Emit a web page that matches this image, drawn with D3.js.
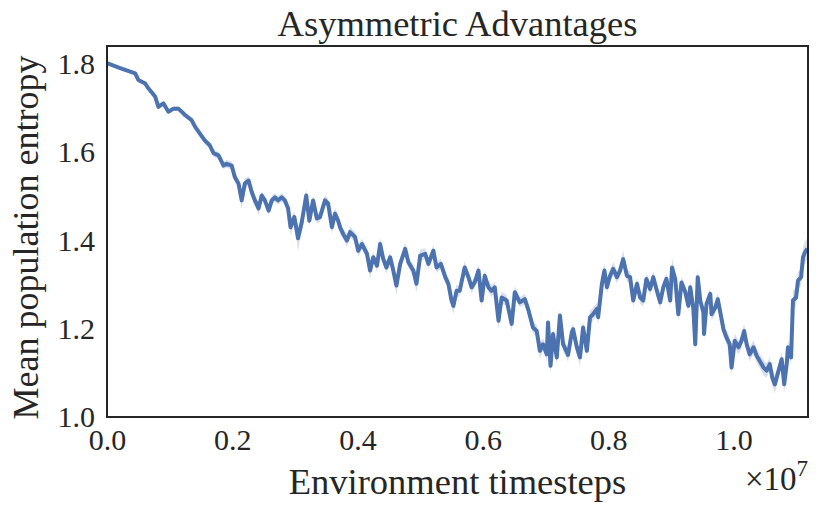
<!DOCTYPE html>
<html>
<head>
<meta charset="utf-8">
<script src="https://cdnjs.cloudflare.com/ajax/libs/d3/7.8.5/d3.min.js"></script>
<style>
  body { margin: 0; background: #fff; }
  text { font-family: "Liberation Serif", "DejaVu Serif", serif; fill: #262626; }
</style>
</head>
<body>
<div id="chart"></div>
<script>
// timesteps, in units of 1e7
var steps = [
  0, 0.021, 0.045, 0.050, 0.061, 0.066, 0.077, 0.082, 0.090, 0.098,
  0.106, 0.114, 0.125, 0.135, 0.141, 0.148, 0.156, 0.164, 0.170, 0.178,
  0.186, 0.191, 0.199, 0.204, 0.210, 0.215, 0.220, 0.226, 0.231, 0.236,
  0.242, 0.247, 0.252, 0.258, 0.263, 0.268, 0.273, 0.279, 0.284, 0.289,
  0.293, 0.299, 0.305, 0.311, 0.318, 0.323, 0.329, 0.335, 0.340, 0.348,
  0.353, 0.359, 0.364, 0.369, 0.372, 0.377, 0.383, 0.388, 0.396, 0.401,
  0.407, 0.415, 0.420, 0.425, 0.431, 0.436, 0.441, 0.446, 0.452, 0.457,
  0.462, 0.468, 0.476, 0.481, 0.489, 0.494, 0.500, 0.508, 0.513, 0.521,
  0.526, 0.533, 0.540, 0.545, 0.550, 0.553, 0.558, 0.563, 0.571, 0.577,
  0.582, 0.587, 0.593, 0.598, 0.603, 0.609, 0.614, 0.619, 0.625, 0.630,
  0.638, 0.646, 0.651, 0.659, 0.667, 0.673, 0.680, 0.686, 0.691, 0.696,
  0.702, 0.704, 0.708, 0.712, 0.718, 0.723, 0.728, 0.736, 0.742, 0.744,
  0.750, 0.755, 0.760, 0.766, 0.771, 0.776, 0.782, 0.784, 0.790, 0.794,
  0.798, 0.803, 0.808, 0.814, 0.819, 0.824, 0.830, 0.835, 0.840, 0.846,
  0.851, 0.856, 0.861, 0.867, 0.872, 0.877, 0.883, 0.888, 0.893, 0.899,
  0.902, 0.907, 0.912, 0.917, 0.923, 0.928, 0.931, 0.936, 0.939, 0.943,
  0.947, 0.952, 0.953, 0.957, 0.963, 0.965, 0.971, 0.975, 0.979, 0.984,
  0.989, 0.994, 0.997, 1.002, 1.008, 1.013, 1.017, 1.021, 1.026, 1.032,
  1.037, 1.042, 1.048, 1.053, 1.058, 1.062, 1.066, 1.072, 1.077, 1.081,
  1.085, 1.087, 1.092, 1.095, 1.100, 1.103, 1.108, 1.111, 1.114, 1.118
];

var entropy = [
  1.802, 1.791, 1.779, 1.764, 1.756, 1.745, 1.726, 1.703, 1.711, 1.692,
  1.699, 1.699, 1.684, 1.673, 1.657, 1.643, 1.627, 1.616, 1.598, 1.593,
  1.570, 1.574, 1.570, 1.544, 1.529, 1.491, 1.529, 1.536, 1.510, 1.491,
  1.473, 1.502, 1.491, 1.468, 1.491, 1.498, 1.491, 1.498, 1.491, 1.473,
  1.430, 1.453, 1.405, 1.442, 1.502, 1.445, 1.491, 1.450, 1.453, 1.491,
  1.484, 1.430, 1.461, 1.445, 1.430, 1.415, 1.400, 1.419, 1.408, 1.377,
  1.392, 1.370, 1.332, 1.362, 1.343, 1.392, 1.358, 1.339, 1.362, 1.332,
  1.298, 1.347, 1.381, 1.351, 1.332, 1.302, 1.366, 1.370, 1.347, 1.377,
  1.339, 1.347, 1.317, 1.302, 1.264, 1.252, 1.286, 1.286, 1.339, 1.317,
  1.294, 1.305, 1.332, 1.264, 1.320, 1.294, 1.286, 1.294, 1.218, 1.271,
  1.264, 1.211, 1.283, 1.260, 1.267, 1.241, 1.203, 1.195, 1.150, 1.165,
  1.142, 1.214, 1.116, 1.188, 1.135, 1.230, 1.165, 1.141, 1.192, 1.199,
  1.158, 1.135, 1.203, 1.150, 1.226, 1.233, 1.245, 1.226, 1.302, 1.332,
  1.294, 1.320, 1.336, 1.317, 1.332, 1.358, 1.320, 1.317, 1.264, 1.302,
  1.271, 1.264, 1.313, 1.290, 1.317, 1.290, 1.260, 1.294, 1.313, 1.264,
  1.339, 1.313, 1.233, 1.305, 1.284, 1.252, 1.294, 1.245, 1.165, 1.317,
  1.264, 1.237, 1.188, 1.256, 1.279, 1.233, 1.248, 1.267, 1.237, 1.199,
  1.180, 1.165, 1.112, 1.173, 1.158, 1.173, 1.195, 1.165, 1.142, 1.158,
  1.139, 1.127, 1.112, 1.105, 1.120, 1.089, 1.074, 1.105, 1.131, 1.074,
  1.120, 1.158, 1.135, 1.264, 1.271, 1.309, 1.317, 1.362, 1.373, 1.382
];

// half width of the shaded band around the mean
var spread = [
  0.002, 0.002, 0.003, 0.003, 0.003, 0.003, 0.004, 0.004, 0.004, 0.004,
  0.005, 0.005, 0.005, 0.006, 0.006, 0.006, 0.007, 0.007, 0.008, 0.008,
  0.008, 0.009, 0.009, 0.012, 0.010, 0.020, 0.012, 0.010, 0.010, 0.012,
  0.015, 0.010, 0.010, 0.012, 0.010, 0.010, 0.010, 0.010, 0.010, 0.012,
  0.020, 0.012, 0.030, 0.012, 0.015, 0.012, 0.010, 0.012, 0.010, 0.012,
  0.010, 0.015, 0.012, 0.012, 0.015, 0.012, 0.015, 0.012, 0.012, 0.014,
  0.012, 0.014, 0.020, 0.012, 0.014, 0.015, 0.012, 0.014, 0.012, 0.014,
  0.022, 0.012, 0.015, 0.012, 0.014, 0.020, 0.014, 0.012, 0.012, 0.014,
  0.012, 0.012, 0.014, 0.014, 0.016, 0.018, 0.014, 0.012, 0.014, 0.012,
  0.014, 0.012, 0.014, 0.016, 0.012, 0.012, 0.014, 0.012, 0.020, 0.014,
  0.012, 0.018, 0.014, 0.012, 0.012, 0.014, 0.014, 0.014, 0.018, 0.014,
  0.016, 0.014, 0.022, 0.014, 0.016, 0.014, 0.014, 0.016, 0.014, 0.012,
  0.014, 0.020, 0.014, 0.014, 0.016, 0.014, 0.014, 0.016, 0.020, 0.016,
  0.014, 0.014, 0.016, 0.014, 0.014, 0.020, 0.014, 0.014, 0.016, 0.014,
  0.014, 0.014, 0.014, 0.014, 0.014, 0.014, 0.016, 0.014, 0.014, 0.014,
  0.022, 0.014, 0.018, 0.014, 0.014, 0.014, 0.014, 0.014, 0.020, 0.018,
  0.014, 0.014, 0.018, 0.014, 0.014, 0.014, 0.014, 0.014, 0.014, 0.016,
  0.016, 0.016, 0.020, 0.016, 0.016, 0.016, 0.016, 0.016, 0.016, 0.016,
  0.016, 0.016, 0.018, 0.016, 0.016, 0.018, 0.020, 0.016, 0.016, 0.020,
  0.016, 0.016, 0.016, 0.024, 0.020, 0.020, 0.020, 0.024, 0.024, 0.024
];

var xTicks = [0, 0.2, 0.4, 0.6, 0.8, 1.0];
var yTicks = [1.0, 1.2, 1.4, 1.6, 1.8];

var width = 830, height = 516;
var margin = {top: 46, right: 22, bottom: 99, left: 107};
var lineColor = "#4c72b0";

var svg = d3.select("#chart").append("svg")
  .attr("width", width)
  .attr("height", height);

var x = d3.scaleLinear().domain([0, 1.119]).range([margin.left, width - margin.right]);
var y = d3.scaleLinear().domain([1.0, 1.841]).range([height - margin.bottom, margin.top]);

var data = steps.map(function (s, i) {
  return {s: s, v: entropy[i], e: spread[i]};
});

svg.append("clipPath").attr("id", "plotclip")
  .append("rect")
  .attr("x", margin.left).attr("y", margin.top)
  .attr("width", x.range()[1] - margin.left)
  .attr("height", y.range()[0] - margin.top);

var plot = svg.append("g").attr("clip-path", "url(#plotclip)");

plot.append("path")
  .datum(data)
  .attr("fill", lineColor)
  .attr("fill-opacity", 0.22)
  .attr("d", d3.area()
    .x(function (d) { return x(d.s); })
    .y0(function (d) { return y(d.v - d.e); })
    .y1(function (d) { return y(d.v + d.e); }));

plot.append("path")
  .datum(data)
  .attr("fill", "none")
  .attr("stroke", lineColor)
  .attr("stroke-width", 4)
  .attr("stroke-linejoin", "round")
  .attr("d", d3.line()
    .x(function (d) { return x(d.s); })
    .y(function (d) { return y(d.v); }));

// axes without tick marks (seaborn white style)
var xAxis = svg.append("g")
  .attr("transform", "translate(0," + (height - margin.bottom) + ")")
  .call(d3.axisBottom(x).tickValues(xTicks).tickSize(0).tickPadding(12)
    .tickFormat(d3.format(".1f")));
var yAxis = svg.append("g")
  .attr("transform", "translate(" + margin.left + ",0)")
  .call(d3.axisLeft(y).tickValues(yTicks).tickSize(0).tickPadding(12)
    .tickFormat(d3.format(".1f")));

[xAxis, yAxis].forEach(function (a) {
  a.select(".domain").remove();
  a.selectAll("text")
    .style("font-family", "'Liberation Serif', serif")
    .style("font-size", "30px")
    .attr("fill", "#262626");
});
xAxis.selectAll("text").attr("dy", "0.71em");

// frame
svg.append("rect")
  .attr("x", margin.left)
  .attr("y", margin.top)
  .attr("width", x.range()[1] - margin.left)
  .attr("height", y.range()[0] - margin.top)
  .attr("fill", "none")
  .attr("stroke", "#262626")
  .attr("stroke-width", 2);

svg.append("text")
  .attr("x", (margin.left + x.range()[1]) / 2)
  .attr("y", 36)
  .attr("text-anchor", "middle")
  .style("font-size", "36.5px")
  .text("Asymmetric Advantages");

svg.append("text")
  .attr("x", (margin.left + x.range()[1]) / 2)
  .attr("y", 494)
  .attr("text-anchor", "middle")
  .style("font-size", "36.5px")
  .text("Environment timesteps");

svg.append("text")
  .attr("transform", "translate(38," + ((margin.top + y.range()[0]) / 2 + 6) + ") rotate(-90)")
  .attr("text-anchor", "middle")
  .style("font-size", "36px")
  .text("Mean population entropy");

var offset = svg.append("text")
  .attr("x", x.range()[1])
  .attr("y", 490)
  .attr("text-anchor", "end")
  .style("font-size", "33px");
offset.append("tspan").text("\u00d710");
offset.append("tspan").attr("dy", -14).style("font-size", "23px").text("7");
</script>
</body>
</html>
